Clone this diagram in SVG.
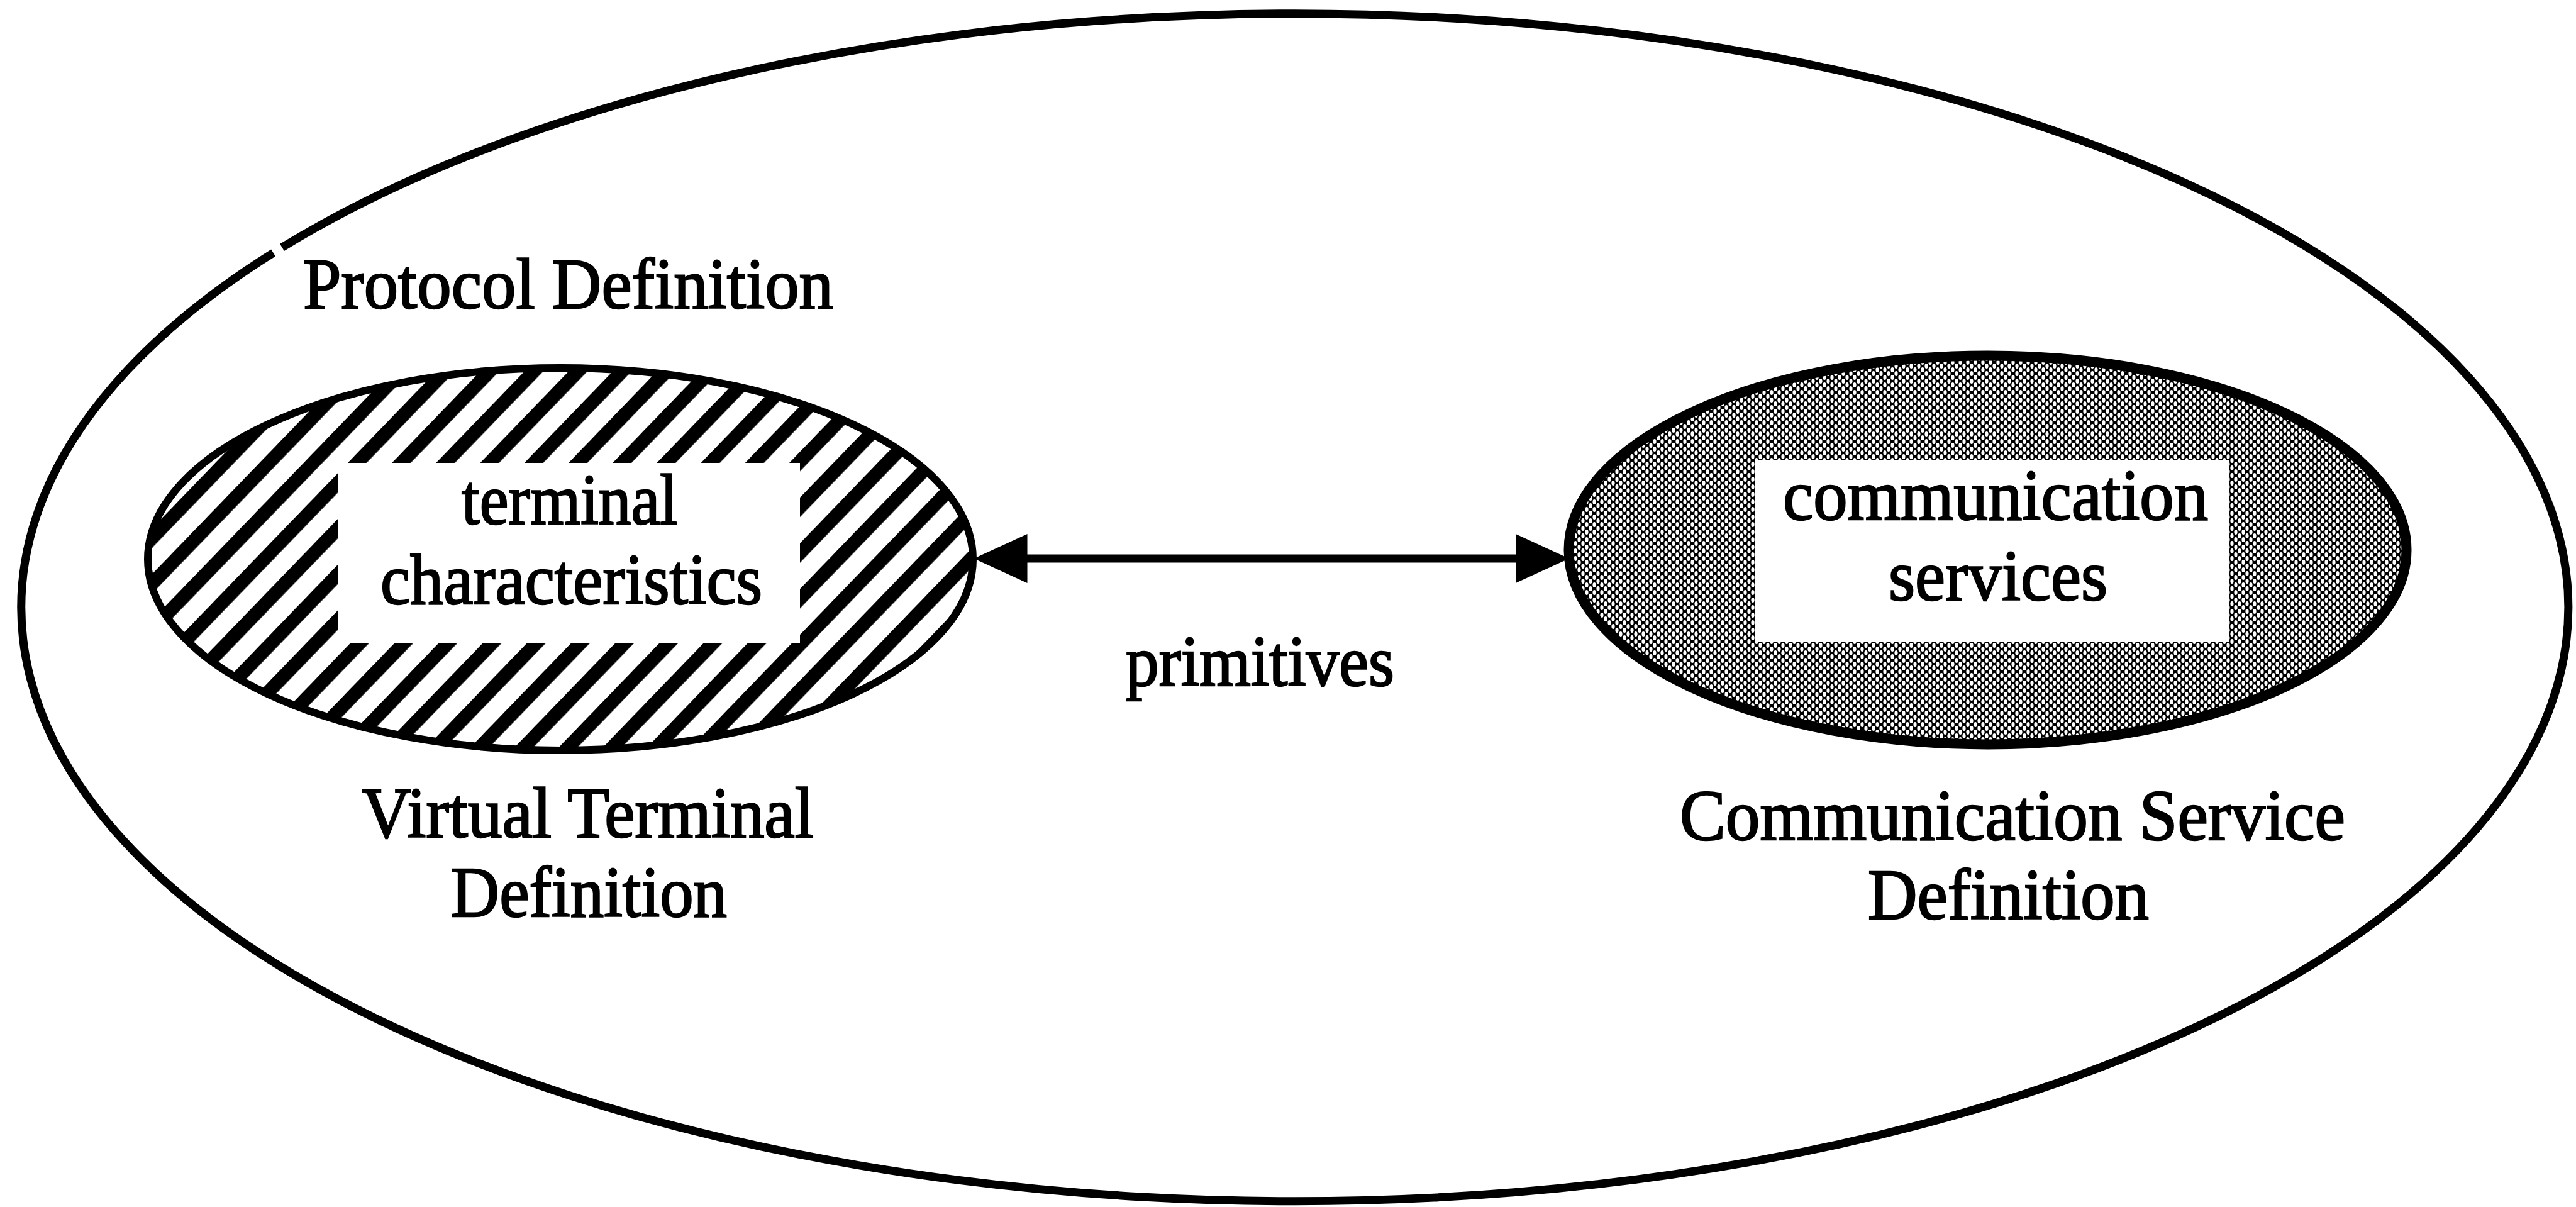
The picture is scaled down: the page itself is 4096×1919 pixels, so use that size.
<svg xmlns="http://www.w3.org/2000/svg" width="4096" height="1919" viewBox="0 0 4096 1919">
  <style>
    .outline { fill: none; stroke: #000; }
    .label { font-family: "Liberation Serif", "Times New Roman", serif; font-size: 114px; fill: #000; stroke: #000; stroke-width: 2.5; }
    .shaft { stroke: #000; stroke-width: 13; fill: none; }
  </style>
  <defs>
    <!-- diagonal "/" stripes for the virtual terminal -->
    <pattern id="hatch" patternUnits="userSpaceOnUse" width="50.5" height="50.5" patternTransform="rotate(44)">
      <rect width="50.5" height="50.5" fill="#fff"/>
      <rect x="0" y="0" width="21.5" height="50.5" fill="#000"/>
    </pattern>
    <!-- fine halftone screen for the communication service -->
    <pattern id="halftone" patternUnits="userSpaceOnUse" width="12" height="12">
      <rect width="12" height="12" fill="#000"/>
      <ellipse cx="3" cy="6" rx="2.6" ry="4" fill="#fff"/>
      <ellipse cx="9" cy="0" rx="2.6" ry="4" fill="#fff"/>
      <ellipse cx="9" cy="12" rx="2.6" ry="4" fill="#fff"/>
    </pattern>
    <marker id="head" viewBox="0 0 85 78" refX="35" refY="39" markerWidth="85" markerHeight="78"
            markerUnits="userSpaceOnUse" orient="auto-start-reverse">
      <path d="M0,0 L85,39 L0,78 Z" fill="#000"/>
    </marker>
  </defs>

  <rect width="4096" height="1919" fill="#fff"/>

  <!-- outer boundary: protocol definition (small break near its label) -->
  <g id="protocol-definition">
    <path class="outline" stroke-width="13" d="M448.5,393.4 A2025,944 0 1 1 434.6,402.0"/>
    <text class="label" x="482" y="489.5" textLength="843" lengthAdjust="spacingAndGlyphs">Protocol Definition</text>
  </g>

  <!-- virtual terminal definition -->
  <g id="virtual-terminal">
    <ellipse cx="891" cy="889" rx="656" ry="304" fill="url(#hatch)" stroke="#000" stroke-width="12"/>
    <rect x="538" y="736" width="734" height="287" fill="#fff"/>
    <text class="label" x="734" y="832.6" textLength="344" lengthAdjust="spacingAndGlyphs">terminal</text>
    <text class="label" x="605" y="959.7" textLength="607" lengthAdjust="spacingAndGlyphs">characteristics</text>
    <text class="label" x="575" y="1330.7" textLength="719" lengthAdjust="spacingAndGlyphs">Virtual Terminal</text>
    <text class="label" x="717" y="1456.6" textLength="439" lengthAdjust="spacingAndGlyphs">Definition</text>
  </g>

  <!-- communication service definition -->
  <g id="communication-service">
    <ellipse cx="3160.5" cy="874.4" rx="666" ry="309" fill="url(#halftone)" stroke="#000" stroke-width="16"/>
    <rect x="2790" y="731.5" width="755" height="289.5" fill="#fff"/>
    <text class="label" x="2835" y="825.6" textLength="676" lengthAdjust="spacingAndGlyphs">communication</text>
    <text class="label" x="3003" y="953.6" textLength="348" lengthAdjust="spacingAndGlyphs">services</text>
    <text class="label" x="2671" y="1335" textLength="1058" lengthAdjust="spacingAndGlyphs">Communication Service</text>
    <text class="label" x="2970" y="1461" textLength="447" lengthAdjust="spacingAndGlyphs">Definition</text>
  </g>

  <!-- primitives exchanged between the two definitions -->
  <g id="connectors">
    <path class="shaft" d="M1598.5,888 L2445,888" marker-start="url(#head)" marker-end="url(#head)"/>
    <text class="label" x="1790" y="1090" textLength="427" lengthAdjust="spacingAndGlyphs">primitives</text>
  </g>
</svg>
